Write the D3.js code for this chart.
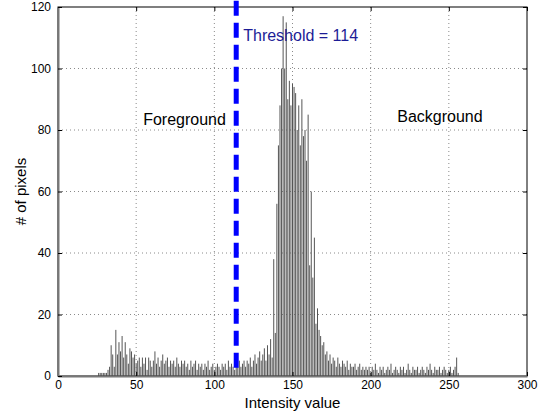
<!DOCTYPE html>
<html>
<head>
<meta charset="utf-8">
<script src="https://cdn.jsdelivr.net/npm/d3@7"></script>
<style>
  body { margin: 0; background: #fff; }
  svg { font-family: "Liberation Sans", Arial, sans-serif; }
</style>
</head>
<body>
<svg width="539" height="417"></svg>
<script>
const width = 539, height = 417;
const margin = {top: 7, right: 12, bottom: 41, left: 58};

// histogram: counts for intensity values starting at firstIntensity
const firstIntensity = 26;
const counts = [
  1, 1, 1, 1, 1, 1, 2, 3, 10, 7, 3, 15, 7, 11, 8, 13, 6, 11, 7, 4,
  9, 8, 6, 7, 4, 5, 6, 3, 6, 4, 6, 2, 6, 5, 3, 5, 8, 4, 6, 3,
  5, 7, 4, 5, 6, 3, 5, 4, 5, 3, 6, 4, 3, 5, 4, 5, 3, 4, 2, 5,
  3, 4, 5, 2, 4, 3, 4, 2, 4, 3, 5, 2, 3, 4, 2, 3, 4, 3, 2, 4,
  3, 4, 2, 5, 3, 4, 3, 2, 4, 3, 5, 3, 4, 5, 3, 5, 4, 6, 3, 5,
  7, 4, 6, 8, 5, 7, 9, 5, 10, 7, 12, 6, 38, 14, 56, 75, 88, 100, 117, 100,
  115, 90, 96, 88, 95, 94, 92, 80, 88, 75, 90, 78, 80, 70, 85, 36, 60, 32, 45, 17,
  22, 15, 13, 10, 11, 7, 8, 5, 7, 4, 6, 5, 3, 6, 4, 3, 5, 4, 3, 5,
  2, 4, 3, 3, 4, 2, 3, 4, 2, 3, 2, 3, 2, 3, 1, 3, 2, 4, 2, 1,
  3, 2, 3, 1, 2, 3, 2, 4, 1, 2, 3, 2, 1, 3, 2, 3, 1, 2, 4, 2,
  1, 3, 2, 2, 3, 1, 2, 3, 2, 1, 3, 2, 4, 2, 1, 3, 2, 2, 3, 1,
  2, 3, 2, 1, 2, 3, 1, 2, 3, 6, 1
];
const xTicks = [0, 50, 100, 150, 200, 250, 300];
const yTicks = [0, 20, 40, 60, 80, 100, 120];
const threshold = 114;
const thresholdSpan = [2, 122];
const regionLabels = [
  {text: "Foreground", x: 54.5, y: 81.6},
  {text: "Background", x: 217, y: 82.6}
];

const svg = d3.select("svg");
const x = d3.scaleLinear().domain([0, 300]).range([margin.left, width - margin.right]);
const y = d3.scaleLinear().domain([0, 120]).range([height - margin.bottom, margin.top]);

// dotted grid
const grid = svg.append("g").attr("stroke", "#8a8a8a").attr("stroke-dasharray", "1,3");
grid.selectAll(".gx").data(xTicks.slice(1, -1)).join("line")
  .attr("x1", d => x(d)).attr("x2", d => x(d))
  .attr("y1", y(0)).attr("y2", y(120));
grid.selectAll(".gy").data(yTicks.slice(1, -1)).join("line")
  .attr("x1", x(0)).attr("x2", x(300))
  .attr("y1", d => y(d)).attr("y2", d => y(d));

// histogram bars
svg.append("g").selectAll("line").data(counts).join("line")
  .attr("x1", (d, i) => x(firstIntensity + i)).attr("x2", (d, i) => x(firstIntensity + i))
  .attr("y1", y(0)).attr("y2", d => y(d))
  .attr("stroke", "#555").attr("stroke-width", 1);

// box with inward ticks on top and right too
svg.append("rect")
  .attr("x", x(0)).attr("y", y(120))
  .attr("width", x(300) - x(0)).attr("height", y(0) - y(120))
  .attr("fill", "none").attr("stroke", "#000").attr("stroke-width", 1);
svg.append("g").attr("transform", `translate(0,${y(120)})`)
  .call(d3.axisTop(x).tickValues(xTicks).tickSizeInner(-4).tickSizeOuter(0).tickFormat(""))
  .call(g => g.select(".domain").remove());
svg.append("g").attr("transform", `translate(${x(300)},0)`)
  .call(d3.axisRight(y).tickValues(yTicks).tickSizeInner(-4).tickSizeOuter(0).tickFormat(""))
  .call(g => g.select(".domain").remove());

// axes (MATLAB style: ticks inside)
const xAxis = svg.append("g").attr("transform", `translate(0,${y(0)})`)
  .call(d3.axisBottom(x).tickValues(xTicks).tickSizeInner(-4).tickSizeOuter(0).tickPadding(4));
const yAxis = svg.append("g").attr("transform", `translate(${x(0)},0)`)
  .call(d3.axisLeft(y).tickValues(yTicks).tickSizeInner(-4).tickSizeOuter(0).tickPadding(7));
[xAxis, yAxis].forEach(g => {
  g.select(".domain").attr("stroke", "#777").attr("stroke-width", 2);
  g.selectAll(".tick line").attr("stroke", "#000");
  g.selectAll("text").attr("font-size", 12).attr("fill", "#000")
    .attr("font-family", "Liberation Sans, Arial, sans-serif");
});

// threshold line
svg.append("line")
  .attr("x1", x(threshold)).attr("x2", x(threshold))
  .attr("y1", y(thresholdSpan[1])).attr("y2", y(thresholdSpan[0]))
  .attr("stroke", "#0000ff").attr("stroke-width", 5)
  .attr("stroke-dasharray", "15,7");

svg.append("text")
  .attr("x", x(threshold) + 7).attr("y", 41)
  .attr("font-size", 16).attr("fill", "#1c1c96")
  .text("Threshold = " + threshold);

svg.selectAll(".region").data(regionLabels).join("text")
  .attr("x", d => x(d.x)).attr("y", d => y(d.y))
  .attr("font-size", 16).attr("fill", "#000")
  .text(d => d.text);

// axis titles
svg.append("text")
  .attr("x", (x(0) + x(300)) / 2).attr("y", 408)
  .attr("text-anchor", "middle").attr("font-size", 15)
  .text("Intensity value");
svg.append("text")
  .attr("transform", `translate(26,${(y(0) + y(120)) / 2}) rotate(-90)`)
  .attr("text-anchor", "middle").attr("font-size", 15)
  .text("# of pixels");
</script>
</body>
</html>
